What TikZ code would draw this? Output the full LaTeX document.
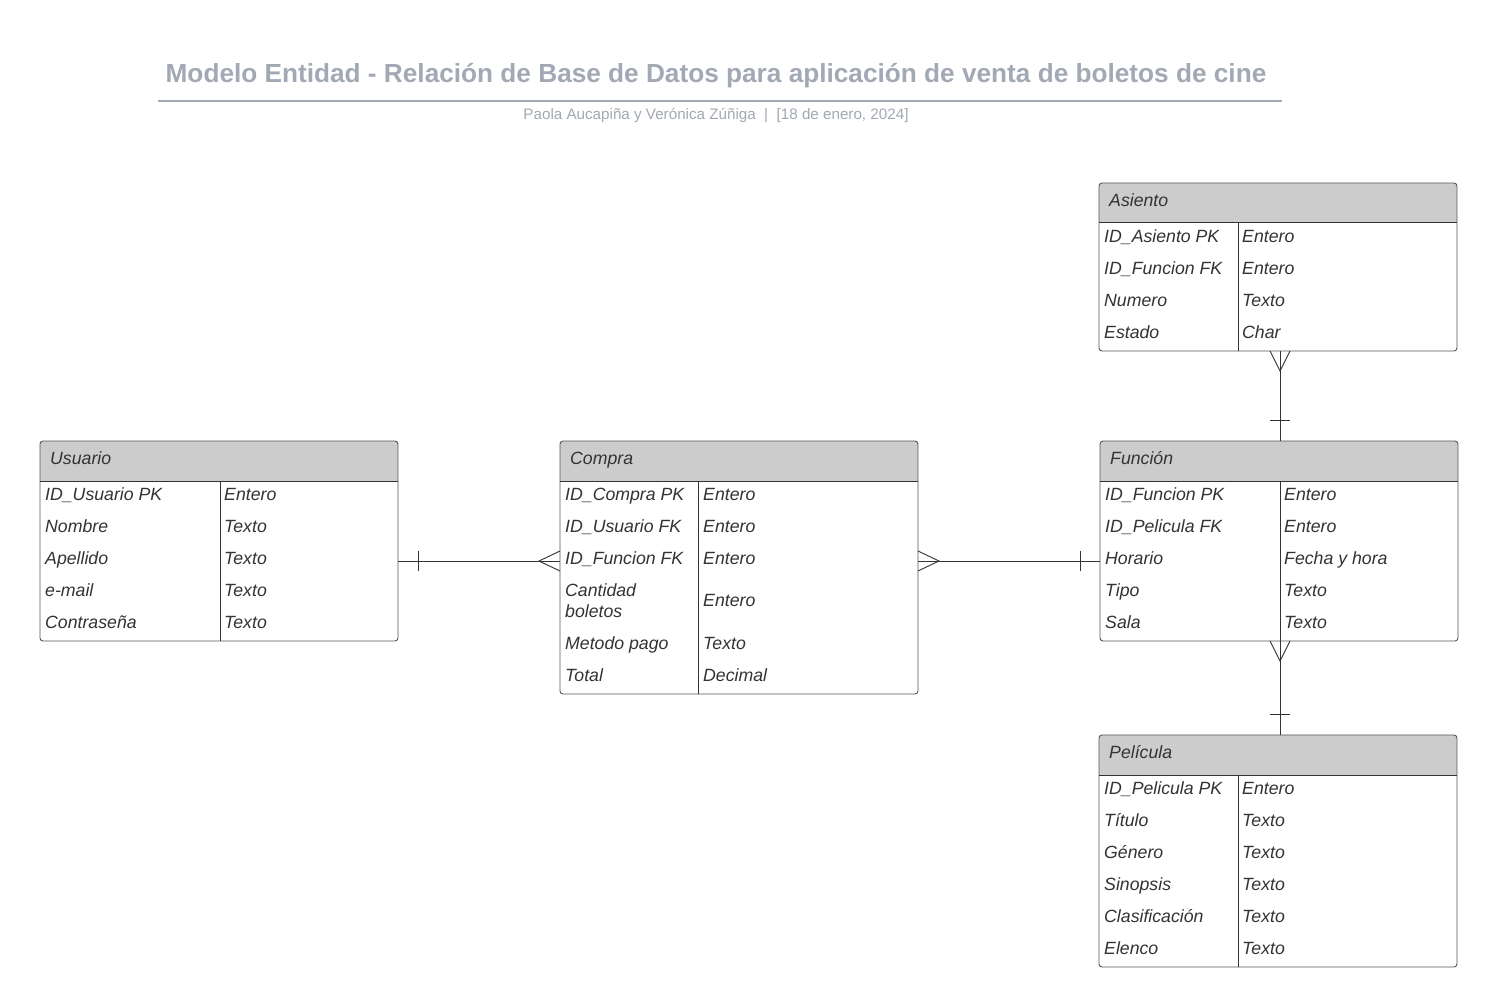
\documentclass[tikz,border=0pt]{standalone}
\usepackage{fontspec}
\setmainfont{Liberation Sans}
\usetikzlibrary{fit}
\definecolor{headfill}{HTML}{CCCCCC}
\definecolor{titlegray}{HTML}{A3A9B4}
\definecolor{ink}{HTML}{333333}
\definecolor{edge}{HTML}{555555}
\tikzset{
  tbox/.style={draw=edge, line width=0.9pt, rounded corners=3pt, inner sep=0pt},
  sepline/.style={draw=ink, line width=0.9pt},
  cell/.style={anchor=base west, inner sep=0pt, yshift=-6.4pt, text=ink, font=\fontsize{17.7}{21}\selectfont\itshape},
  conn/.style={draw=ink, line width=0.9pt},
}
\newcommand\ertable[7]{%
  \begin{scope}
    \clip[rounded corners=3pt] (#2,#3) rectangle (#4,#5);
    \fill[headfill] (#2,#3) rectangle (#4,#6);
  \end{scope}
  \node[tbox, fit={(#2,#3) (#4,#5)}] (#1) {};
  \draw[sepline] (#2,#6) -- (#4,#6);
  \draw[sepline] (#7,#6) -- (#7,#5);
}
\begin{document}
\begin{tikzpicture}[x=1pt,y=-1pt]
\useasboundingbox[fill=white] (0,0) rectangle (1498,1007);

% title
\node[anchor=base, text=titlegray, font=\fontsize{26.2}{31}\selectfont\bfseries] (title) at (716,82.5) {Modelo Entidad - Relación de Base de Datos para aplicación de venta de boletos de cine};
\draw[titlegray, line width=1.5pt] (158,101) -- (1282,101);
\node[anchor=base, text=titlegray, font=\fontsize{15.2}{18}\selectfont] (subtitle) at (716,119.5) {Paola Aucapiña y Verónica Zúñiga \ | \ [18 de enero, 2024]};

% Asiento
\ertable{asiento}{1099}{183}{1457}{351}{222}{1238}
\node[cell] (asH) at (1109,200) {Asiento};
\node[cell] (as1a) at (1104,236) {ID\_Asiento PK};  \node[cell] (as1b) at (1242,236) {Entero};
\node[cell] (as2a) at (1104,268) {ID\_Funcion FK};  \node[cell] (as2b) at (1242,268) {Entero};
\node[cell] (as3a) at (1104,300) {Numero};         \node[cell] (as3b) at (1242,300) {Texto};
\node[cell] (as4a) at (1104,332) {Estado};         \node[cell] (as4b) at (1242,332) {Char};

% Usuario
\ertable{usuario}{40}{441}{398}{641}{481}{220}
\node[cell] (usH) at (50,458) {Usuario};
\node[cell] (us1a) at (45,494) {ID\_Usuario PK}; \node[cell] (us1b) at (224,494) {Entero};
\node[cell] (us2a) at (45,526) {Nombre};        \node[cell] (us2b) at (224,526) {Texto};
\node[cell] (us3a) at (45,558) {Apellido};      \node[cell] (us3b) at (224,558) {Texto};
\node[cell] (us4a) at (45,590) {e-mail};        \node[cell] (us4b) at (224,590) {Texto};
\node[cell] (us5a) at (45,622) {Contraseña};    \node[cell] (us5b) at (224,622) {Texto};

% Compra
\ertable{compra}{560}{441}{918}{694}{481}{698}
\node[cell] (coH) at (570,458) {Compra};
\node[cell] (co1a) at (565,494) {ID\_Compra PK};  \node[cell] (co1b) at (703,494) {Entero};
\node[cell] (co2a) at (565,526) {ID\_Usuario FK}; \node[cell] (co2b) at (703,526) {Entero};
\node[cell] (co3a) at (565,558) {ID\_Funcion FK}; \node[cell] (co3b) at (703,558) {Entero};
\node[cell, align=left] (co4a) at (565,611) {Cantidad\\boletos}; \node[cell] (co4b) at (703,600) {Entero};
\node[cell] (co5a) at (565,643) {Metodo pago};    \node[cell] (co5b) at (703,643) {Texto};
\node[cell] (co6a) at (565,675) {Total};          \node[cell] (co6b) at (703,675) {Decimal};

% Funcion
\ertable{funcion}{1100}{441}{1458}{641}{481}{1280}
\node[cell] (fuH) at (1110,458) {Función};
\node[cell] (fu1a) at (1105,494) {ID\_Funcion PK};  \node[cell] (fu1b) at (1284,494) {Entero};
\node[cell] (fu2a) at (1105,526) {ID\_Pelicula FK}; \node[cell] (fu2b) at (1284,526) {Entero};
\node[cell] (fu3a) at (1105,558) {Horario};         \node[cell] (fu3b) at (1284,558) {Fecha y hora};
\node[cell] (fu4a) at (1105,590) {Tipo};            \node[cell] (fu4b) at (1284,590) {Texto};
\node[cell] (fu5a) at (1105,622) {Sala};            \node[cell] (fu5b) at (1284,622) {Texto};

% Pelicula
\ertable{pelicula}{1099}{735}{1457}{967}{775}{1238}
\node[cell] (peH) at (1109,752) {Película};
\node[cell] (pe1a) at (1104,788) {ID\_Pelicula PK}; \node[cell] (pe1b) at (1242,788) {Entero};
\node[cell] (pe2a) at (1104,820) {Título};          \node[cell] (pe2b) at (1242,820) {Texto};
\node[cell] (pe3a) at (1104,852) {Género};          \node[cell] (pe3b) at (1242,852) {Texto};
\node[cell] (pe4a) at (1104,884) {Sinopsis};        \node[cell] (pe4b) at (1242,884) {Texto};
\node[cell] (pe5a) at (1104,916) {Clasificación};   \node[cell] (pe5b) at (1242,916) {Texto};
\node[cell] (pe6a) at (1104,948) {Elenco};          \node[cell] (pe6b) at (1242,948) {Texto};

% connector end points
\coordinate (uR) at (398,561);
\coordinate (cL) at (560,561);
\coordinate (cR) at (918,561);
\coordinate (fL) at (1100,561);
\coordinate (aB) at (1280,351);
\coordinate (fT) at (1280,441);
\coordinate (fB) at (1280,641);
\coordinate (pT) at (1280,735);

% Usuario -- Compra
\draw[conn] (uR) -- (cL);
\draw[conn] (418,551) -- (418,571);
\draw[conn] (560,551) -- (539,561) -- (560,571);

% Compra -- Funcion
\draw[conn] (cR) -- (fL);
\draw[conn] (918,551) -- (939,561) -- (918,571);
\draw[conn] (1080,551) -- (1080,571);

% Asiento -- Funcion
\draw[conn] (aB) -- (fT);
\draw[conn] (1270,351) -- (1280,371) -- (1290,351);
\draw[conn] (1270,420) -- (1290,420);

% Funcion -- Pelicula
\draw[conn] (fB) -- (pT);
\draw[conn] (1270,641) -- (1280,661) -- (1290,641);
\draw[conn] (1270,714) -- (1290,714);
\end{tikzpicture}
\end{document}
